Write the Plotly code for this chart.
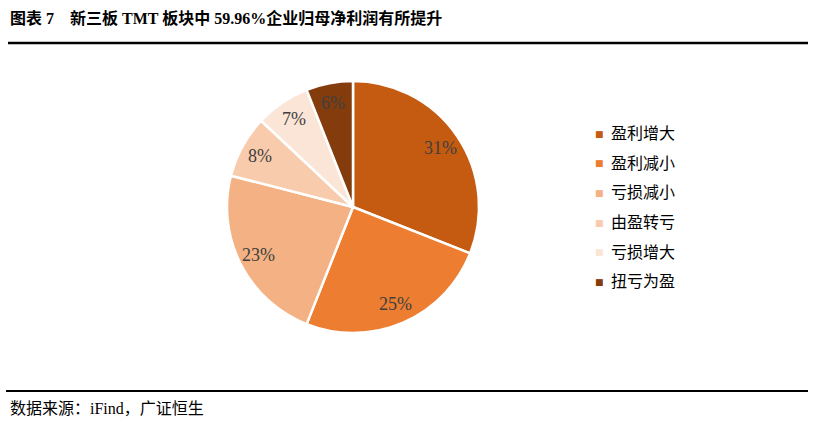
import math
import plotly.graph_objects as go

categories = ["盈利增大", "盈利减小", "亏损减小", "由盈转亏", "亏损增大", "扭亏为盈"]
values = [31, 25, 23, 8, 7, 6]
colors = ["#C55A11", "#ED7D31", "#F4B183", "#F8CBAD", "#FBE5D6", "#843C0C"]
title_text = "图表 7    新三板 TMT 板块中 59.96%企业归母净利润有所提升"
source_text = "数据来源：iFind，广证恒生"

W, H = 816, 431
FONT = "Liberation Serif, Noto Sans CJK SC, serif"

cx, cy, r = 353, 207, 126
label_frac = 0.84

fig = go.Figure()
fig.add_trace(go.Pie(
    labels=categories,
    values=values,
    sort=False,
    direction="clockwise",
    rotation=0,
    marker=dict(colors=colors, line=dict(color="white", width=2.5)),
    textinfo="none",
    showlegend=False,
    hoverinfo="label+percent",
    domain=dict(x=[(cx - r) / W, (cx + r) / W], y=[(H - cy - r) / H, (H - cy + r) / H]),
))

annotations = [
    dict(text=f"<b>{title_text}</b>", x=8 / W, y=1 - 18 / H, xref="paper", yref="paper",
         xanchor="left", yanchor="middle", showarrow=False,
         font=dict(family=FONT, size=16, color="#000000")),
    dict(text=source_text, x=8 / W, y=1 - 408 / H, xref="paper", yref="paper",
         xanchor="left", yanchor="middle", showarrow=False,
         font=dict(family=FONT, size=16, color="#000000")),
]

# data labels placed along each slice's mid-angle
total = sum(values)
cum = 0
for v in values:
    mid = (cum + v / 2) / total * 2 * math.pi
    cum += v
    px = cx + label_frac * r * math.sin(mid)
    py = cy - label_frac * r * math.cos(mid)
    annotations.append(dict(text=f"{round(v / total * 100)}%", x=px / W, y=1 - py / H,
                            xref="paper", yref="paper", xanchor="center", yanchor="middle",
                            showarrow=False,
                            font=dict(family=FONT, size=18, color="#404040")))

leg_y0, leg_dy = 134, 29.5
for i, (cat, col) in enumerate(zip(categories, colors)):
    yy = 1 - (leg_y0 + i * leg_dy) / H
    annotations.append(dict(text="■", x=599 / W, y=yy, xref="paper", yref="paper",
                            xanchor="center", yanchor="middle", showarrow=False,
                            font=dict(family="DejaVu Sans", size=9, color=col)))
    annotations.append(dict(text=cat, x=609 / W, y=yy, xref="paper", yref="paper",
                            xanchor="left", yanchor="middle", showarrow=False,
                            font=dict(family=FONT, size=16, color="#000000")))

shapes = [
    dict(type="line", xref="paper", yref="paper", x0=8 / W, x1=808 / W,
         y0=1 - 43 / H, y1=1 - 43 / H, line=dict(color="#000000", width=2.5)),
    dict(type="line", xref="paper", yref="paper", x0=6 / W, x1=808 / W,
         y0=1 - 391 / H, y1=1 - 391 / H, line=dict(color="#000000", width=2)),
]

fig.update_layout(
    width=W, height=H,
    margin=dict(l=0, r=0, t=0, b=0),
    paper_bgcolor="white", plot_bgcolor="white",
    annotations=annotations, shapes=shapes,
)

fig.write_html("out.html")
